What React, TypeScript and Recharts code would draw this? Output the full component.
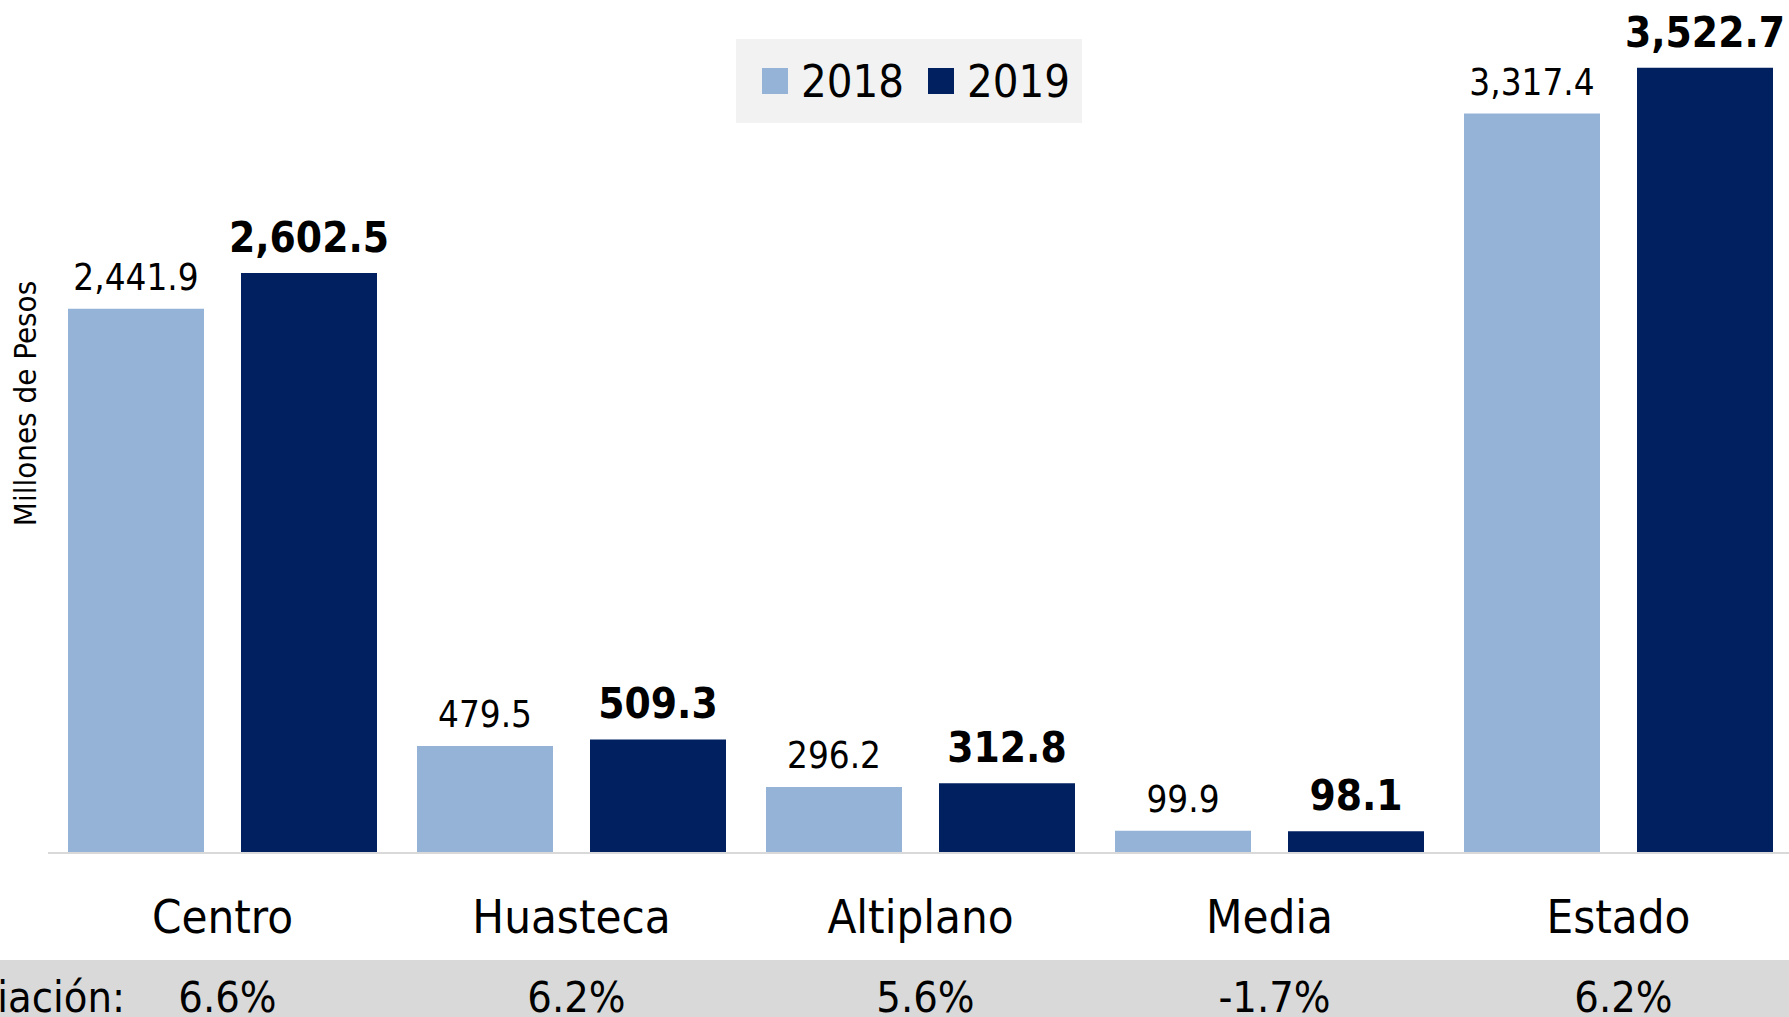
import { BarChart, Bar, XAxis, YAxis, Legend, LabelList } from "recharts";

const categories = ["Centro", "Huasteca", "Altiplano", "Media", "Estado"];
const values2018 = [2441.9, 479.5, 296.2, 99.9, 3317.4];
const values2019 = [2602.5, 509.3, 312.8, 98.1, 3522.7];
const variation = ["6.6%", "6.2%", "5.6%", "-1.7%", "6.2%"];
const seriesNames = ["2018", "2019"];

const COLORS = ["#95b3d7", "#002060"];
const FONT = "'DejaVu Sans Condensed', 'DejaVu Sans', sans-serif";

const data = categories.map((name, i) => ({
  name,
  y2018: values2018[i],
  y2019: values2019[i],
  variation: variation[i],
}));

const fmt = (v: number) =>
  v.toLocaleString("en-US", { minimumFractionDigits: 1, maximumFractionDigits: 1 });

const makeLabel = (bold: boolean) => (props: any) => {
  const { x, y, width, value } = props;
  return (
    <text
      x={Number(x) + Number(width) / 2}
      y={Number(y) - (bold ? 21 : 19)}
      textAnchor="middle"
      fontFamily={FONT}
      fontSize={bold ? 42 : 36.5}
      fontWeight={bold ? "bold" : "normal"}
      fill="#000"
    >
      {fmt(Number(value))}
    </text>
  );
};

const CategoryTick = (props: any) => {
  const { x, y, payload } = props;
  return (
    <text x={x} y={y + 80} textAnchor="middle" fontFamily={FONT} fontSize={47} fill="#000">
      {payload.value}
    </text>
  );
};

// variation row: band + "Variación:" caption sit under the category labels
const VariationTick = (props: any) => {
  const { x, y, index } = props;
  return (
    <g>
      {index === 0 && (
        <text x={125} y={y + 49} textAnchor="end" fontFamily={FONT} fontSize={43} fill="#000">
          Variación:
        </text>
      )}
      <text x={x + 5} y={y + 49} textAnchor="middle" fontFamily={FONT} fontSize={43} fill="#000">
        {variation[index]}
      </text>
    </g>
  );
};

const YLabel = (props: any) => {
  const { viewBox } = props;
  const cx = viewBox.x + 25;
  const cy = viewBox.y + viewBox.height / 2 - 26;
  return (
    <text
      x={cx}
      y={cy}
      transform={`rotate(-90, ${cx}, ${cy})`}
      textAnchor="middle"
      dominantBaseline="central"
      fontFamily={FONT}
      fontSize={31}
      fill="#000"
    >
      Millones de Pesos
    </text>
  );
};

const LegendBox = () => (
  <div
    style={{
      width: 346,
      height: 84,
      background: "#f2f2f2",
      display: "flex",
      alignItems: "center",
      paddingLeft: 26,
      boxSizing: "border-box",
      fontFamily: FONT,
      fontSize: 45,
      color: "#000",
    }}
  >
    {seriesNames.map((s, i) => (
      <div key={s} style={{ display: "flex", alignItems: "center", marginRight: 24 }}>
        <span style={{ width: 26, height: 26, background: COLORS[i], marginRight: 13 }} />
        <span style={{ lineHeight: 1 }}>{s}</span>
      </div>
    ))}
  </div>
);

export default function App() {
  return (
    <div
      style={{
        position: "fixed",
        left: 0,
        top: 0,
        width: 1789,
        height: 1017,
        overflow: "hidden",
        background: "#fff",
      }}
    >
      <div
        style={{
          position: "absolute",
          left: 0,
          top: 960,
          width: 1789,
          height: 57,
          background: "#d9d9d9",
        }}
      />
      <div style={{ position: "absolute", left: 0, top: 0 }}>
        <BarChart
          width={1793}
          height={1017}
          data={data}
          margin={{ top: 6, right: 0, left: 0, bottom: 0 }}
          barCategoryGap={20}
          barGap={37}
        >
          <XAxis
            dataKey="name"
            height={110}
            tickSize={0}
            tickMargin={0}
            tickLine={false}
            axisLine={{ stroke: "#d9d9d9", strokeWidth: 2 }}
            tick={<CategoryTick />}
            interval={0}
          />
          <XAxis
            xAxisId="v"
            dataKey="name"
            height={54}
            tickSize={0}
            tickMargin={0}
            tickLine={false}
            axisLine={false}
            tick={<VariationTick />}
            interval={0}
          />
          <YAxis
            width={48}
            domain={[0, 3800]}
            tick={false}
            tickLine={false}
            axisLine={false}
            label={<YLabel />}
          />
          <Legend
            layout="vertical"
            align="center"
            verticalAlign="middle"
            content={<LegendBox />}
            wrapperStyle={{ left: 736, top: 39, width: 346, height: 84 }}
          />
          <Bar dataKey="y2018" name="2018" fill={COLORS[0]} isAnimationActive={false}>
            <LabelList dataKey="y2018" content={makeLabel(false)} />
          </Bar>
          <Bar dataKey="y2019" name="2019" fill={COLORS[1]} isAnimationActive={false}>
            <LabelList dataKey="y2019" content={makeLabel(true)} />
          </Bar>
        </BarChart>
      </div>
    </div>
  );
}
